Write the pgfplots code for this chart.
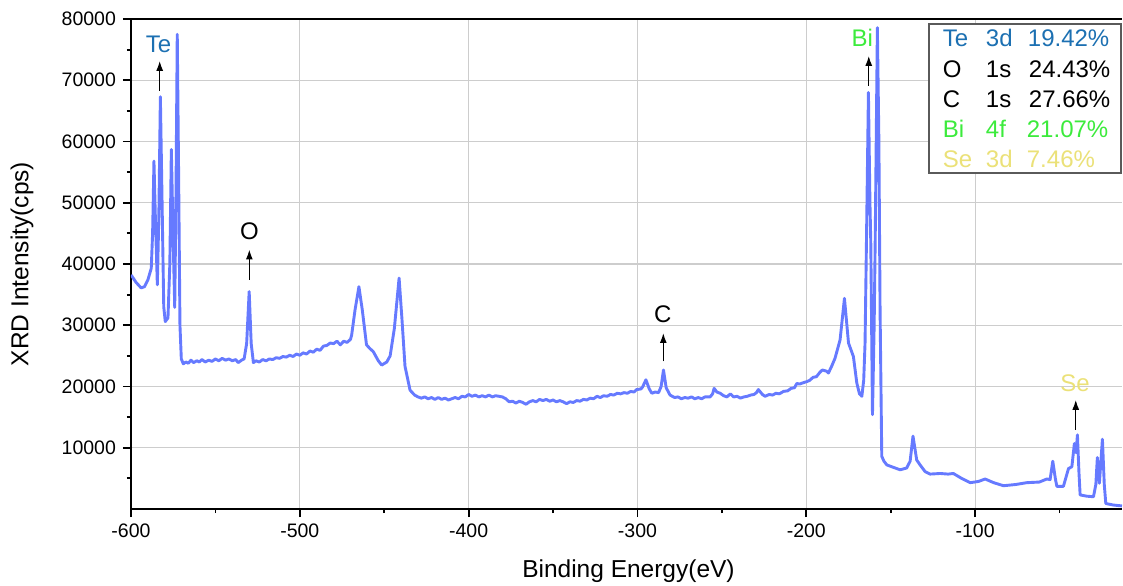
\documentclass[border=0pt]{standalone}
\usepackage{pgfplots}
\pgfplotsset{compat=1.18}
\usetikzlibrary{arrows.meta}
\usepackage{fontspec}
\setmainfont{Liberation Sans}
\definecolor{spec}{RGB}{102,122,255}
\definecolor{tecol}{RGB}{28,112,178}
\definecolor{bicol}{RGB}{60,235,60}
\definecolor{secol}{RGB}{235,225,120}
\definecolor{gridc}{RGB}{205,205,205}
\definecolor{boxc}{RGB}{90,90,90}
\begin{document}
\begin{tikzpicture}
\begin{axis}[
 at={(0,0)}, anchor=south west,
 scale only axis, width=495.5pt, height=245pt,
 xmin=-600, xmax=-13, ymin=0, ymax=80000,
 scaled ticks=false,
 axis x line=box, axis y line=left,
 axis line style={line width=1pt, -},
 tick align=outside, tick pos=left,
 major tick length=4pt, minor tick length=2pt,
 every tick/.style={black, line width=0.9pt},
 xtick={-600,-500,-400,-300,-200,-100},
 xticklabels={-600,-500,-400,-300,-200,-100},
 minor xtick={-550,-450,-350,-250,-150,-50},
 ytick={10000,20000,30000,40000,50000,60000,70000,80000},
 yticklabels={10000,20000,30000,40000,50000,60000,70000,80000},
 minor ytick={5000,15000,25000,35000,45000,55000,65000,75000},
 grid=major,
 major grid style={gridc, line width=0.6pt},
 tick label style={font=\fontsize{9.75}{11}\selectfont},
 label style={font=\fontsize{12.25}{14}\selectfont},
 xlabel={Binding Energy(eV)},
 ylabel={XRD Intensity(cps)},
 xlabel style={at={(axis description cs:0.502,-0.139)}, anchor=base},
 ylabel style={at={(axis description cs:-0.11,0.5)}, anchor=center},
 clip mode=individual,
]
\addplot[spec, line width=1.45pt, line join=round] coordinates {
(-600,38200) (-599.4,38000) (-597,37000) (-594,36100) (-592,36300) (-590,37400)
(-588,39300) (-587.2,45000) (-586.4,56800) (-585.6,48000) (-584.4,36600) (-583.5,48000)
(-582.6,67300) (-581.7,52000) (-580.6,33000) (-579.7,30600) (-578.1,31200) (-577,40000)
(-576.1,58700) (-575.1,45000) (-574.1,32900) (-573.4,50000) (-572.6,77500) (-571.8,55000)
(-571,30000) (-570.2,24500) (-569,23700) (-567.5,24000) (-566,23800) (-564.5,24300)
(-563,23900) (-561,24200) (-559.5,24000) (-558,24400) (-556,24000) (-554,24300)
(-552,24100) (-550,24500) (-548,24200) (-546,24600) (-544,24300) (-542,24500)
(-540,24200) (-538,24400) (-536.5,23900) (-534.5,24300) (-533,24500) (-531.5,27000)
(-530,35500) (-528.8,27000) (-527.5,23900) (-526,24200) (-524,24000) (-522,24400)
(-520,24200) (-518,24500) (-516,24400) (-514,24700) (-512,24600) (-510,24900)
(-508,24800) (-506,25100) (-504,24900) (-502,25300) (-500,25100) (-498,25500)
(-496,25300) (-494,25800) (-492,25600) (-490,26100) (-488,25900) (-486,26600)
(-484,26700) (-482,27100) (-480,27000) (-478,27400) (-476,26800) (-474,27400)
(-472,27200) (-470,27700) (-469.3,28400) (-467.3,32500) (-465,36300) (-463,32500)
(-460.5,26800) (-458.5,26200) (-456.5,25700) (-453.5,24200) (-451.5,23500) (-448.5,24000)
(-446.5,25000) (-444,29500) (-441.2,37700) (-439.5,31000) (-437.7,23300) (-434.7,19400)
(-432,18600) (-430,18300) (-428,18100) (-426,18300) (-424,18000) (-422,18200)
(-420,17900) (-418,18200) (-416,17900) (-414,18100) (-412,17800) (-410,18000)
(-408,18200) (-406,18000) (-404,18400) (-402,18300) (-400,18700) (-398,18400)
(-396,18600) (-394,18300) (-392,18500) (-390,18300) (-388,18600) (-386,18300)
(-384,18500) (-382,18400) (-380,18300) (-378,18000) (-376,17500) (-374,17600)
(-372,17300) (-370,17600) (-368,17400) (-366,17100) (-364,17500) (-362,17700)
(-360,17500) (-358,17900) (-356,17700) (-354,17900) (-352,17600) (-350,17800)
(-348,17500) (-346,17700) (-344,17500) (-342,17200) (-340,17500) (-338,17400)
(-336,17700) (-334,17600) (-332,17900) (-330,17800) (-328,18100) (-326,18000)
(-324,18400) (-322,18200) (-320,18500) (-318,18400) (-316,18700) (-314,18600)
(-312,18900) (-310,18800) (-308,19000) (-306,18900) (-304,19200) (-302,19100)
(-300.5,19500) (-298,19600) (-297,19900) (-295,21100) (-293,19600) (-291.5,18900)
(-289.5,19100) (-287.5,19000) (-286,20000) (-284.6,22700) (-283,19800) (-280.7,18600)
(-278,18200) (-276,18300) (-274,18000) (-272,18200) (-270,18100) (-268,18300)
(-266,18000) (-264,18200) (-262,18000) (-260,18300) (-257,18300) (-255.5,18800)
(-254.6,19700) (-253,19100) (-251,18900) (-249,18500) (-247,18300) (-245,18800)
(-243,18300) (-241,18400) (-239,18100) (-237,18300) (-235,18400) (-233,18600)
(-231,18700) (-229.5,19000) (-228.4,19500) (-226,18700) (-224.4,18400) (-222,18700)
(-220,18600) (-218,18900) (-216,18800) (-213.5,19200) (-211,19300) (-209,19700)
(-207,19800) (-205.6,20500) (-204,20400) (-202,20600) (-199.7,20800) (-198,21000)
(-196,21500) (-194,21600) (-192,22300) (-190.5,22700) (-188,22500) (-186.9,22200)
(-185,23300) (-183,24600) (-180,27600) (-177.4,34400) (-175,27100) (-172.1,24900)
(-170.1,20600) (-168.5,18800) (-167.1,18400) (-166,21000) (-165.2,27100) (-164.3,45000)
(-163.2,68000) (-162.3,50000) (-161.8,43500) (-160.8,15400) (-159.8,30000) (-159.2,43500)
(-157.9,78600) (-157,60000) (-156.3,32500) (-155.3,8600) (-154,7800) (-152.3,7200)
(-148.4,6800) (-144.4,6400) (-140.5,6700) (-138.5,7800) (-136.8,11900) (-134.6,8000)
(-132.6,7200) (-129.6,6100) (-126.7,5700) (-120.7,5800) (-116,5700) (-112.9,5800)
(-108,5000) (-102.9,4300) (-98,4500) (-94.1,4900) (-89,4300) (-83.2,3800)
(-76,4000) (-69.4,4300) (-62,4400) (-57.5,4900) (-55.6,4800) (-54,7800)
(-52.5,5000) (-51.6,3700) (-47.7,3700) (-44.7,6600) (-42.7,6900) (-41.2,10700)
(-40.2,9200) (-39.4,12100) (-38.5,6000) (-37.8,2300) (-34,2100) (-29.9,2000)
(-28.5,4000) (-27.6,8400) (-26.4,4200) (-24.6,11400) (-23.5,4000) (-22.6,900)
(-18.1,650) (-13,500)
};
% peak annotations
\tikzset{pk/.style={-{Latex[length=5pt,width=3.5pt]}, line width=0.7pt, black}}
\draw[pk] (axis cs:-583,68260) -- (axis cs:-583,73170);
\node[tecol, anchor=base, inner sep=0pt, font=\fontsize{12}{14}\selectfont] at (axis cs:-583.7,74540) {Te};
\draw[pk] (axis cs:-529.9,37460) -- (axis cs:-529.9,42370);
\node[black, anchor=base, inner sep=0pt, font=\fontsize{12}{14}\selectfont] at (axis cs:-529.9,44000) {O};
\draw[pk] (axis cs:-284.7,24100) -- (axis cs:-284.7,28740);
\node[black, anchor=base, inner sep=0pt, font=\fontsize{12}{14}\selectfont] at (axis cs:-285,30380) {C};
\draw[pk] (axis cs:-163,69080) -- (axis cs:-163,73990);
\node[bicol, anchor=base, inner sep=0pt, font=\fontsize{12}{14}\selectfont] at (axis cs:-166.8,75520) {Bi};
\draw[pk] (axis cs:-40.4,12920) -- (axis cs:-40.4,17830);
\node[secol, anchor=base, inner sep=0pt, font=\fontsize{12}{14}\selectfont] at (axis cs:-40.8,19190) {Se};
% composition box
\draw[boxc, line width=0.75pt, fill=white] (rel axis cs:0.805,0.686) rectangle (rel axis cs:0.999,0.990);
\tikzset{lg/.style={anchor=base west, inner sep=0pt, font=\fontsize{12}{14}\selectfont}}
\node[lg, tecol] at (rel axis cs:0.8189,0.9439) {\makebox[21.5pt][l]{Te}\makebox[21pt][l]{3d}19.42\%};
\node[lg, black] at (rel axis cs:0.8189,0.8806) {\makebox[21.5pt][l]{O}\makebox[21.5pt][l]{1s}24.43\%};
\node[lg, black] at (rel axis cs:0.8189,0.8194) {\makebox[21.5pt][l]{C}\makebox[21.5pt][l]{1s}27.66\%};
\node[lg, bicol] at (rel axis cs:0.8189,0.7582) {\makebox[21.5pt][l]{Bi}\makebox[20.5pt][l]{4f}21.07\%};
\node[lg, secol] at (rel axis cs:0.8189,0.6969) {\makebox[21.5pt][l]{Se}\makebox[20.5pt][l]{3d}7.46\%};
\end{axis}
\pgfresetboundingbox
\path[use as bounding box] (-65.5pt,-38pt) rectangle (496pt,254.5pt);
\end{tikzpicture}
\end{document}
